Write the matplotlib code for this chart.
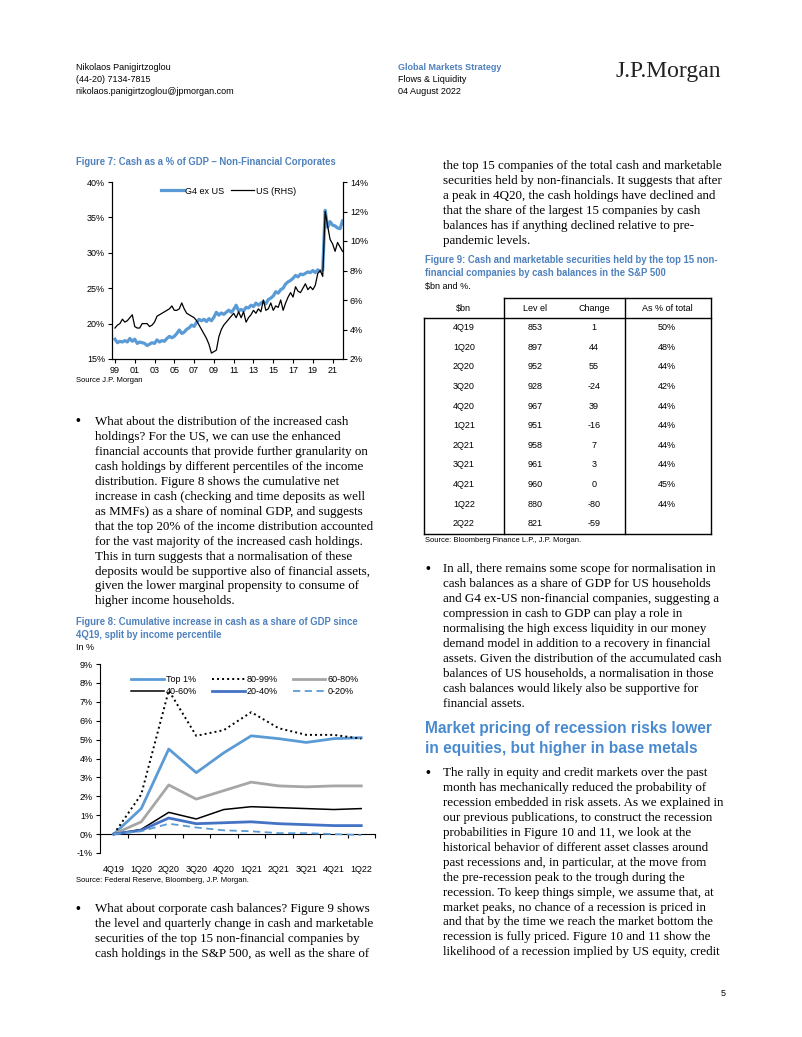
import numpy as np
import matplotlib.pyplot as plt

plt.rcParams['font.family'] = ['Liberation Sans', 'DejaVu Sans']
plt.rcParams['axes.linewidth'] = 0.8

W, H = 802, 1037
BLUE_TXT = '#4f81bd'
BLUE_HEAD = '#4a8bd0'
BLUE_LINE = '#5b9bd5'
SERIF = 'Liberation Serif'

# ---- Figure 7 data: cash as % of GDP, quarterly 1Q99 - 1Q22
g4_ex_us = [
    17.8, 17.3, 17.5, 17.4, 17.6, 17.4, 17.9, 17.5, 17.8, 17.2, 17.4, 17.3,
    17.2, 16.9, 17.1, 17.3, 17.2, 17.7, 17.4, 17.6, 17.5, 17.9, 18.2, 18.0,
    18.2, 18.6, 19.1, 18.6, 18.8, 19.2, 19.4, 19.8, 19.6, 20.2, 20.6, 20.4,
    20.6, 20.3, 20.7, 20.4, 20.9, 21.6, 21.2, 21.5, 21.3, 21.6, 21.9, 21.6,
    22.0, 22.6, 21.8, 22.0, 21.8, 22.3, 22.2, 22.6, 22.4, 22.9, 22.6, 22.9,
    23.1, 22.8, 23.4, 23.6, 23.9, 24.5, 24.3, 24.8, 25.0, 25.6, 25.9, 26.1,
    26.4, 26.8, 26.6, 27.0, 26.9, 27.1, 27.3, 27.2, 27.5, 27.2, 27.6, 27.4,
    27.6, 36.0, 33.6, 34.4, 33.9, 33.8, 33.5, 33.4, 34.5,
]
us_rhs = [
    4.1, 4.3, 4.4, 4.7, 4.5, 4.6, 4.8, 5.0, 4.2, 4.1, 4.1, 4.4,
    4.4, 4.4, 4.2, 4.3, 4.5, 4.9, 5.0, 5.1, 5.2, 5.3, 5.4, 5.6,
    5.3, 5.3, 5.4, 5.8, 5.4, 5.1, 5.0, 4.9, 4.8, 4.6, 4.3, 4.0,
    3.7, 3.4, 3.0, 2.4, 2.5, 2.6, 3.5, 4.0, 4.3, 4.5, 4.7, 4.9,
    5.1, 4.8, 5.2, 4.8, 5.2, 4.5, 4.8, 5.0, 5.3, 5.1, 5.4, 5.2,
    6.0, 5.3, 5.4, 5.8, 5.3, 5.6, 5.5, 6.0, 5.3, 5.8, 6.2, 6.5,
    6.2, 6.9, 6.6, 6.5, 6.8, 7.1, 6.7, 6.9, 6.7, 7.0, 7.8, 8.0,
    7.6, 12.0, 11.0, 10.1, 9.8, 9.3, 9.9, 9.6, 9.3,
]
fig7_years = np.arange(1999, 2022.01, 0.25)
fig7_xticks = list(range(1999, 2022, 2))
fig7_xlabels = ['99', '01', '03', '05', '07', '09', '11', '13', '15', '17', '19', '21']

# ---- Figure 8 data: cumulative increase in cash / GDP by income percentile
fig8_quarters = ['4Q19', '1Q20', '2Q20', '3Q20', '4Q20', '1Q21', '2Q21', '3Q21', '4Q21', '1Q22']
top1 = [0, 1.35, 4.5, 3.25, 4.3, 5.2, 5.05, 4.85, 5.05, 5.1]
p80_99 = [0, 2.1, 7.6, 5.2, 5.5, 6.45, 5.6, 5.25, 5.25, 5.05]
p60_80 = [0, 0.65, 2.6, 1.85, 2.3, 2.75, 2.55, 2.5, 2.55, 2.55]
p40_60 = [0, 0.25, 1.15, 0.8, 1.3, 1.45, 1.4, 1.35, 1.3, 1.35]
p20_40 = [0, 0.2, 0.85, 0.55, 0.6, 0.65, 0.55, 0.5, 0.45, 0.45]
p0_20 = [0, 0.15, 0.55, 0.35, 0.2, 0.15, 0.05, 0.05, 0.0, -0.05]

# ---- Figure 9 table data
tbl_header = ['$bn', 'Lev el', 'Change', 'As % of total']
tbl_quarters = ['4Q19', '1Q20', '2Q20', '3Q20', '4Q20', '1Q21', '2Q21', '3Q21', '4Q21', '1Q22', '2Q22']
tbl_level = [853, 897, 952, 928, 967, 951, 958, 961, 960, 880, 821]
tbl_change = [1, 44, 55, -24, 39, -16, 7, 3, 0, -80, -59]
tbl_share = ['50%', '48%', '44%', '42%', '44%', '44%', '44%', '44%', '45%', '44%', '']

# ---- body text
para_left1 = [
    "What about the distribution of the increased cash",
    "holdings? For the US, we can use the enhanced",
    "financial accounts that provide further granularity on",
    "cash holdings by different percentiles of the income",
    "distribution. Figure 8 shows the cumulative net",
    "increase in cash (checking and time deposits as well",
    "as MMFs) as a share of nominal GDP, and suggests",
    "that the top 20% of the income distribution accounted",
    "for the vast majority of the increased cash holdings.",
    "This in turn suggests that a normalisation of these",
    "deposits would be supportive also of financial assets,",
    "given the lower marginal propensity to consume of",
    "higher income households.",
]
para_left2 = [
    "What about corporate cash balances? Figure 9 shows",
    "the level and quarterly change in cash and marketable",
    "securities of the top 15 non-financial companies by",
    "cash holdings in the S&P 500, as well as the share of",
]
para_right1 = [
    "the top 15 companies of the total cash and marketable",
    "securities held by non-financials. It suggests that after",
    "a peak in 4Q20, the cash holdings have declined and",
    "that the share of the largest 15 companies by cash",
    "balances has if anything declined relative to pre-",
    "pandemic levels.",
]
para_right2 = [
    "In all, there remains some scope for normalisation in",
    "cash balances as a share of GDP for US households",
    "and G4 ex-US non-financial companies, suggesting a",
    "compression in cash to GDP can play a role in",
    "normalising the high excess liquidity in our money",
    "demand model in addition to a recovery in financial",
    "assets. Given the distribution of the accumulated cash",
    "balances of US households, a normalisation in those",
    "cash balances would likely also be supportive for",
    "financial assets.",
]
para_right3 = [
    "The rally in equity and credit markets over the past",
    "month has mechanically reduced the probability of",
    "recession embedded in risk assets. As we explained in",
    "our previous publications, to construct the recession",
    "probabilities in Figure 10 and 11, we look at the",
    "historical behavior of different asset classes around",
    "past recessions and, in particular, at the move from",
    "the pre-recession peak to the trough during the",
    "recession. To keep things simple, we assume that, at",
    "market peaks, no chance of a recession is priced in",
    "and that by the time we reach the market bottom the",
    "recession is fully priced. Figure 10 and 11 show the",
    "likelihood of a recession implied by US equity, credit",
]

fig = plt.figure(figsize=(W / 100, H / 100), dpi=100)


def put(x, y, s, **kw):
    """place text with pixel coords measured from top-left"""
    kw.setdefault('va', 'center')
    fig.text(x / W, 1 - y / H, s, **kw)


def box(left, top, right, bottom):
    return fig.add_axes([left / W, 1 - bottom / H, (right - left) / W, (bottom - top) / H])


def paragraph(x, y0, lines, bullet_x=None, step=14.95):
    if bullet_x is not None:
        put(bullet_x, y0, '\u2022', fontsize=10, family=SERIF, fontweight='bold')
    for i, line in enumerate(lines):
        put(x, y0 + i * step, line, fontsize=9.35, family=SERIF)


# ---- page header
put(75.5, 68, 'Nikolaos Panigirtzoglou', fontsize=6.5)
put(75.5, 80, '(44-20) 7134-7815', fontsize=6.5)
put(75.5, 91, 'nikolaos.panigirtzoglou@jpmorgan.com', fontsize=6.5)
put(398, 67, 'Global Markets Strategy', fontsize=6.5, color=BLUE_TXT, fontweight='bold')
put(398, 79, 'Flows & Liquidity', fontsize=6.5)
put(398, 91, '04 August 2022', fontsize=6.5)
put(615, 72, 'J.P.Morgan', fontsize=17, family=SERIF, color='#222222')

# ---- Figure 7
put(75.5, 162, 'Figure 7: Cash as a % of GDP \u2013 Non-Financial Corporates',
    fontsize=6.85, color=BLUE_TXT, fontweight='bold')
ax7 = box(112, 182, 343, 359)
l1, = ax7.plot(fig7_years, g4_ex_us, color=BLUE_LINE, lw=2.3, label='G4 ex US')
ax7.set_ylim(15, 40)
ax7.set_yticks(range(15, 41, 5))
ax7.set_yticklabels([f'{v}%' for v in range(15, 41, 5)])
ax7.set_xlim(1998.7, 2022.05)
ax7.set_xticks(fig7_xticks)
ax7.set_xticklabels(fig7_xlabels)
ax7r = ax7.twinx()
l2, = ax7r.plot(fig7_years, us_rhs, color='black', lw=0.9, label='US (RHS)')
ax7r.set_ylim(2, 14)
ax7r.set_yticks(range(2, 15, 2))
ax7r.set_yticklabels([f'{v}%' for v in range(2, 15, 2)])
for a in (ax7, ax7r):
    a.spines['top'].set_visible(False)
    a.tick_params(labelsize=6.5, length=3, width=0.8, pad=2)
ax7.legend(handles=[l1, l2], loc='upper left', bbox_to_anchor=(0.175, 1.02), ncol=2,
           frameon=False, fontsize=6.5, handlelength=2.6, handletextpad=0.15,
           columnspacing=0.7)
put(75.5, 381, 'Source J.P. Morgan', fontsize=5.5)

paragraph(95, 422, para_left1, bullet_x=75)

# ---- Figure 8
put(75.5, 622, 'Figure 8: Cumulative increase in cash as a share of GDP since',
    fontsize=6.85, color=BLUE_TXT, fontweight='bold')
put(75.5, 635, '4Q19, split by income percentile', fontsize=6.85, color=BLUE_TXT, fontweight='bold')
put(75.5, 648, 'In %', fontsize=6.5)
ax8 = box(100, 664, 375, 853)
xs = np.arange(len(fig8_quarters))
h_top1, = ax8.plot(xs, top1, color=BLUE_LINE, lw=2.0, label='Top 1%')
h_8099, = ax8.plot(xs, p80_99, color='black', lw=1.4, ls=(0, (1, 1.6)), label='80-99%')
h_6080, = ax8.plot(xs, p60_80, color='#a6a6a6', lw=2.0, label='60-80%')
h_4060, = ax8.plot(xs, p40_60, color='black', lw=1.1, label='40-60%')
h_2040, = ax8.plot(xs, p20_40, color='#4472c4', lw=2.0, label='20-40%')
h_020, = ax8.plot(xs, p0_20, color=BLUE_LINE, lw=1.3, ls=(0, (4, 2.5)), label='0-20%')
ax8.set_xlim(-0.5, len(fig8_quarters) - 0.5)
ax8.set_ylim(-1, 9)
ax8.set_yticks(range(-1, 10))
ax8.set_yticklabels([f'{v}%' for v in range(-1, 10)])
ax8.set_xticks(xs)
ax8.set_xticklabels(fig8_quarters)
for s in ('top', 'right', 'bottom'):
    ax8.spines[s].set_visible(False)
ax8.tick_params(axis='y', labelsize=6.5, length=3, width=0.8, pad=2)
ax8.tick_params(axis='x', labelsize=6.5, length=0, pad=9)
zero_axis = ax8.secondary_xaxis(0, transform=ax8.transData)
zero_axis.set_xticks(np.arange(-0.5, len(fig8_quarters), 1.0))
zero_axis.set_xticklabels([])
zero_axis.tick_params(length=3, width=0.8)
zero_axis.spines['bottom'].set_linewidth(0.8)
ax8.legend(handles=[h_top1, h_4060, h_8099, h_2040, h_6080, h_020],
           loc='upper left', bbox_to_anchor=(0.084, 0.985), ncol=3, frameon=False,
           fontsize=6.5, handlelength=3.6, handletextpad=0.2, columnspacing=1.7,
           labelspacing=0.3)
put(75.5, 880, 'Source: Federal Reserve, Bloomberg, J.P. Morgan.', fontsize=5.5)

paragraph(95, 909, para_left2, bullet_x=75)

# ---- right column
paragraph(443, 166, para_right1)

put(425, 260, 'Figure 9: Cash and marketable securities held by the top 15 non-',
    fontsize=6.85, color=BLUE_TXT, fontweight='bold')
put(425, 273, 'financial companies by cash balances in the S&P 500',
    fontsize=6.85, color=BLUE_TXT, fontweight='bold')
put(425, 287, '$bn and %.', fontsize=6.5)

# table: x in [0,1] across the box, y in row units (row 0 = 4Q19)
axt = box(424, 298.3, 711, 533.5)
axt.set_xlim(0, 1)
axt.set_ylim(10.5, -1.5)
axt.axis('off')
col_x = [0.139, 0.387, 0.592, 0.847]
for cx, head in zip(col_x, tbl_header):
    axt.text(cx, -1.0, head, ha='center', va='center', fontsize=6.5)
for i, q in enumerate(tbl_quarters):
    axt.text(col_x[0], i, q, ha='center', va='center', fontsize=6.5)
    axt.text(col_x[1], i, str(tbl_level[i]), ha='center', va='center', fontsize=6.5)
    axt.text(col_x[2], i, str(tbl_change[i]), ha='center', va='center', fontsize=6.5)
    axt.text(col_x[3], i, tbl_share[i], ha='center', va='center', fontsize=6.5)
lk = dict(color='black', lw=1.0, clip_on=False)
axt.axhline(-1.5, xmin=0.28, xmax=1, **lk)
axt.axhline(-0.5, **lk)
axt.axhline(10.5, **lk)
axt.axvline(0.28, **lk)
axt.axvline(0.70, **lk)
axt.axvline(1.0, **lk)
axt.axvline(0.0, ymin=0, ymax=11 / 12, **lk)
put(425, 541, 'Source: Bloomberg Finance L.P., J.P. Morgan.', fontsize=5.5)

paragraph(443, 569, para_right2, bullet_x=426)

put(425, 729, 'Market pricing of recession risks lower', fontsize=11.2,
    color=BLUE_HEAD, fontweight='bold')
put(425, 748, 'in equities, but higher in base metals', fontsize=11.2,
    color=BLUE_HEAD, fontweight='bold')

paragraph(443, 773, para_right3, bullet_x=426)

put(721, 993, '5', fontsize=6.5)

fig.savefig('out.png', dpi=100)
